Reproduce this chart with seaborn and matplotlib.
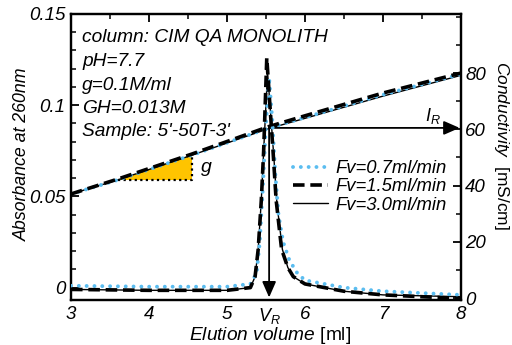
import matplotlib
matplotlib.use("Agg")
import matplotlib.pyplot as plt
import seaborn as sns
from matplotlib.ticker import MultipleLocator

sns.set_theme(style="white")
plt.rcParams['font.family'] = ['Liberation Sans', 'DejaVu Sans']
plt.rcParams['mathtext.fontset'] = 'custom'
plt.rcParams['mathtext.it'] = 'Liberation Sans:italic'
plt.rcParams['mathtext.rm'] = 'Liberation Sans'
for k in ['text.color', 'axes.labelcolor', 'xtick.color', 'ytick.color', 'xtick.labelcolor', 'ytick.labelcolor']:
    plt.rcParams[k] = 'black'

# ---- data ----
flow_labels = ["Fv=0.7ml/min", "Fv=1.5ml/min", "Fv=3.0ml/min"]

vol_07 = [3.0, 4.0, 5.0, 5.3, 5.38, 5.42, 5.46, 5.5, 5.54, 5.58, 5.62, 5.66, 5.72, 5.8, 5.9, 6.0, 6.5, 7.0, 8.0]
abs_07 = [0.001, 0.0005, 0.0005, 0.002, 0.008, 0.025, 0.055, 0.09, 0.115, 0.092, 0.062, 0.04, 0.025, 0.015, 0.008, 0.004, 0.0, -0.002, -0.004]

vol_15 = [3.0, 4.0, 5.0, 5.3, 5.36, 5.40, 5.44, 5.47, 5.51, 5.55, 5.59, 5.63, 5.70, 5.78, 5.85, 6.0, 6.5, 7.0, 8.0]
abs_15 = [-0.001, -0.0015, -0.0015, 0.0, 0.006, 0.021, 0.048, 0.075, 0.126, 0.1, 0.075, 0.048, 0.021, 0.011, 0.006, 0.002, -0.002, -0.004, -0.006]

vol_30 = [3.0, 4.0, 5.0, 5.3, 5.36, 5.40, 5.44, 5.47, 5.52, 5.56, 5.60, 5.64, 5.71, 5.78, 5.85, 6.0, 6.5, 7.0, 8.0]
abs_30 = [-0.001, -0.0015, -0.0015, 0.0, 0.006, 0.021, 0.048, 0.075, 0.118, 0.095, 0.072, 0.046, 0.021, 0.011, 0.006, 0.002, -0.002, -0.004, -0.005]

cond_vol = [3.0, 3.6, 4.55, 5.54, 6.0, 7.0, 8.0]
cond_07 = [37.0, 42.0, 50.8, 60.5, 64.2, 72.3, 79.6]
cond_15 = [37.0, 42.3, 51.2, 61.0, 64.8, 72.9, 80.0]
cond_30 = [37.0, 42.0, 50.8, 60.3, 63.9, 71.8, 79.2]

v_r = 5.54
c_r = 60.5
tri_x = [3.6, 4.55]
tri_c = [42.0, 50.8]

info_lines = ["column: CIM QA MONOLITH", "pH=7.7", "g=0.1M/ml", "GH=0.013M", "Sample: 5'-50T-3'"]

# ---- figure ----
fig = plt.figure(figsize=(5.12, 3.45), dpi=100)
ax = fig.add_axes([71/512, 1-300/345, 390/512, 286/345])
ax2 = ax.twinx()

blue = "#5bbdf0"
styles = [dict(color=blue, linestyle=(0, (0.01, 2.0)), linewidth=2.8, dash_capstyle="round", solid_capstyle="round"),
          dict(color="black", linestyle=(0, (3.2, 1.6)), linewidth=2.6),
          dict(color="black", linestyle="-", linewidth=1.0)]

vols = [vol_07, vol_15, vol_30]
abss = [abs_07, abs_15, abs_30]
conds = [cond_07, cond_15, cond_30]

# yellow triangle (gradient slope)
ax2.fill([tri_x[0], tri_x[1], tri_x[1]], [tri_c[0], tri_c[0], tri_c[1]], color="#ffc400", zorder=1, lw=0)
ax2.plot([tri_x[0], tri_x[1], tri_x[1]], [tri_c[0], tri_c[0], tri_c[1]], color="black", linestyle=(0, (1, 1.5)), lw=1.6, zorder=2)

order = [2, 0, 1]
for i in order:
    sns.lineplot(x=cond_vol, y=conds[i], ax=ax2, estimator=None, sort=False, zorder=3, **styles[i])

for i in order:
    sns.lineplot(x=vols[i], y=abss[i], ax=ax, estimator=None, sort=False, label=flow_labels[i], zorder=3, **styles[i])

# arrows
ax2.annotate("", xy=(8.0, c_r), xytext=(v_r, c_r),
             arrowprops=dict(arrowstyle="-|>,head_length=0.8,head_width=0.35", color="black", lw=1.3, shrinkA=0, shrinkB=1))
ax2.annotate("", xy=(v_r, -0.3), xytext=(v_r, c_r),
             arrowprops=dict(arrowstyle="-|>,head_length=0.8,head_width=0.35", color="black", lw=1.3, shrinkA=0, shrinkB=1))

ax2.text(7.64, 61.3, r"$I_R$", fontsize=13, ha="center", va="bottom")
ax2.text(4.66, 46.5, "g", fontsize=14, style="italic", ha="left", va="center")

for k, t in enumerate(info_lines):
    ax.text(82/512, 1 - (38 + 23.5*k)/345, t, transform=fig.transFigure, fontsize=13.8, style="italic", va="center", ha="left")

ax.set_xlim(3, 8)
ax.set_ylim(-0.0068, 0.15)
ax2.set_ylim(-0.7, 101)

ax.xaxis.set_major_locator(MultipleLocator(1))
ax.xaxis.set_minor_locator(MultipleLocator(0.5))
ax.yaxis.set_minor_locator(MultipleLocator(0.01))
ax2.yaxis.set_minor_locator(MultipleLocator(10))

ax.set_yticks([0, 0.05, 0.1, 0.15])
ax.set_yticklabels(["0", "0.05", "0.1", "0.15"])
ax2.set_yticks([0, 20, 40, 60, 80])

for a in (ax, ax2):
    for s in a.spines.values():
        s.set_linewidth(1.6)
        s.set_color("black")
ax.tick_params(axis="both", which="major", direction="in", length=6, width=1.3, top=True, labelsize=13.5, pad=4)
ax.tick_params(axis="both", which="minor", direction="in", length=3.5, width=1.1, top=True)
ax2.tick_params(axis="y", which="major", direction="in", length=6, width=1.3, labelsize=13.5, pad=3)
ax2.tick_params(axis="y", which="minor", direction="in", length=3.5, width=1.1)
for lab in ax.get_xticklabels() + ax.get_yticklabels() + ax2.get_yticklabels():
    lab.set_fontstyle("italic")

ax.text(v_r, -0.0102, r"$V_R$", fontsize=13, ha="center", va="top")

fig.text(270/512, 1-336/345, r"$\mathit{Elution\ volume}$ [ml]", fontsize=13.8, ha="center", va="center")
fig.text(22/512, 1-154/345, "Absorbance at 260nm", fontsize=12.8, style="italic", rotation=90, ha="center", va="center")
fig.text(502/512, 1-145/345, r"$\mathit{Conductivity}$  [mS/cm]", fontsize=12.5, rotation=270, ha="center", va="center")

h, l = ax.get_legend_handles_labels()
pairs = sorted(zip(h, l), key=lambda p: flow_labels.index(p[1]))
ax.legend([p[0] for p in pairs], [p[1] for p in pairs], loc="upper left", bbox_to_anchor=(293/512, 1-160/345),
          bbox_transform=fig.transFigure, frameon=False, handlelength=1.9,
          handletextpad=0.4, labelspacing=0.08, borderpad=0, borderaxespad=0,
          prop=dict(style="italic", size=13.3))

ax.set_zorder(ax2.get_zorder() + 1)
ax.patch.set_visible(False)

fig.savefig("out.png", dpi=100)
